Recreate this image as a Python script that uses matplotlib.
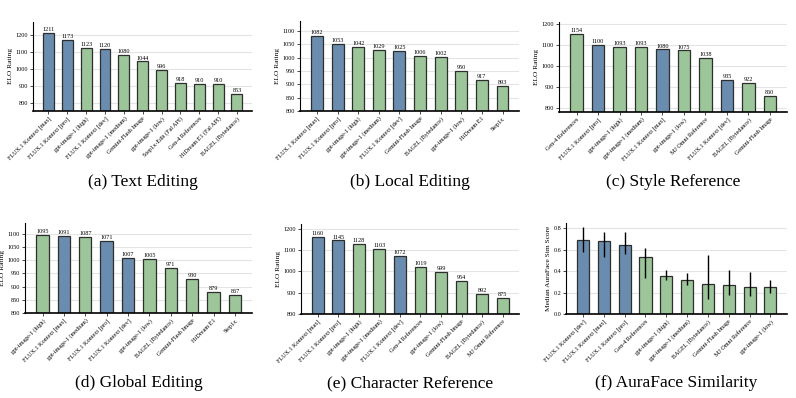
import matplotlib
matplotlib.use('Agg')
import matplotlib.pyplot as plt
import numpy as np

plt.rcParams['font.family'] = ['Liberation Serif', 'DejaVu Serif']

BLUE = '#6a8daf'
GREEN = '#9cc59a'

# (a) text editing
text_models = ['FLUX.1 Kontext [max]', 'FLUX.1 Kontext [pro]', 'gpt-image-1 (high)',
               'FLUX.1 Kontext [dev]', 'gpt-image-1 (medium)', 'Gemini-Flash Image',
               'gpt-image-1 (low)', 'Step1x-Edit (Fal API)', 'Gen-4 References',
               'HiDream E1 (Fal API)', 'BAGEL (Bytedance)']
text_elo = [1211, 1173, 1123, 1120, 1080, 1044, 996, 918, 910, 910, 853]

# (b) local editing
local_models = ['FLUX.1 Kontext [max]', 'FLUX.1 Kontext [pro]', 'gpt-image-1 (high)',
                'gpt-image-1 (medium)', 'FLUX.1 Kontext [dev]', 'Gemini-Flash Image',
                'BAGEL (Bytedance)', 'gpt-image-1 (low)', 'HiDream E1', 'Step1x']
local_elo = [1082, 1053, 1042, 1029, 1025, 1006, 1002, 950, 917, 893]

# (c) style reference
style_models = ['Gen-4 References', 'FLUX.1 Kontext [pro]', 'gpt-image-1 (high)',
                'gpt-image-1 (medium)', 'FLUX.1 Kontext [max]', 'gpt-image-1 (low)',
                'MJ Omni Reference', 'FLUX.1 Kontext [dev]', 'BAGEL (Bytedance)',
                'Gemini-Flash Image']
style_elo = [1154, 1100, 1093, 1093, 1080, 1075, 1038, 935, 922, 860]

# (d) global editing
global_models = ['gpt-image-1 (high)', 'FLUX.1 Kontext [max]', 'gpt-image-1 (medium)',
                 'FLUX.1 Kontext [pro]', 'FLUX.1 Kontext [dev]', 'gpt-image-1 (low)',
                 'BAGEL (Bytedance)', 'Gemini-Flash Image', 'HiDream E1', 'Step1x']
global_elo = [1095, 1091, 1087, 1071, 1007, 1005, 971, 930, 879, 867]

# (e) character reference
char_models = ['FLUX.1 Kontext [max]', 'FLUX.1 Kontext [pro]', 'gpt-image-1 (high)',
               'gpt-image-1 (medium)', 'FLUX.1 Kontext [dev]', 'Gen-4 References',
               'gpt-image-1 (low)', 'Gemini-Flash Image', 'BAGEL (Bytedance)',
               'MJ Omni Reference']
char_elo = [1160, 1145, 1128, 1103, 1072, 1019, 999, 954, 892, 875]

# (f) auraface similarity (median, lower, upper)
aura_models = ['FLUX.1 Kontext [dev]', 'FLUX.1 Kontext [max]', 'FLUX.1 Kontext [pro]',
               'Gen-4 References', 'gpt-image-1 (high)', 'gpt-image-1 (medium)',
               'BAGEL (Bytedance)', 'Gemini-Flash Image', 'MJ Omni Reference',
               'gpt-image-1 (low)']
aura_med = [0.69, 0.68, 0.64, 0.535, 0.355, 0.32, 0.28, 0.27, 0.25, 0.25]
aura_lo = [0.575, 0.53, 0.56, 0.335, 0.32, 0.27, 0.14, 0.175, 0.165, 0.20]
aura_hi = [0.815, 0.77, 0.765, 0.62, 0.41, 0.38, 0.555, 0.415, 0.39, 0.315]

W, H = 796, 398
fig = plt.figure(figsize=(W / 100, H / 100), dpi=100)


def make_ax(x0, x1, y0, y1):
    return fig.add_axes([x0 / W, 1 - y1 / H, (x1 - x0) / W, (y1 - y0) / H])


def style_ax(ax, names, ylab):
    ax.set_axisbelow(True)
    ax.yaxis.grid(True, color='#e4e4e4', linewidth=0.8)
    for s in ['top', 'right']:
        ax.spines[s].set_visible(False)
    ax.spines['left'].set_linewidth(0.8)
    ax.spines['bottom'].set_linewidth(1.2)
    ax.set_xlim(-0.82, len(names) - 0.2)
    ax.set_xticks(range(len(names)))
    ax.set_xticklabels(names, rotation=45, ha='right', rotation_mode='anchor', fontsize=4.4)
    ax.tick_params(axis='both', length=2, width=0.5, pad=1.5, labelsize=4.4)
    ax.set_ylabel(ylab, fontsize=5.3, labelpad=2)


def elo_panel(box, names, vals, ylim, yticks, caption):
    ax = make_ax(*box[:4])
    colors = [BLUE if 'FLUX' in n else GREEN for n in names]
    x = np.arange(len(names))
    ax.bar(x, vals, width=0.58, color=colors, edgecolor='#2e2e2e', linewidth=0.9)
    for xi, v in zip(x, vals):
        ax.text(xi, v + (ylim[1] - ylim[0]) * 0.01, str(v), ha='center', va='bottom', fontsize=4.4)
    ax.set_ylim(*ylim)
    ax.set_yticks(yticks)
    style_ax(ax, names, 'ELO Rating')
    cx = (box[0] + box[1]) / 2
    fig.text(cx / W, 1 - box[4] / H, caption, ha='center', va='center', fontsize=12.5)
    return ax


elo_panel((33, 252, 22, 111, 182), text_models, text_elo, (753, 1276),
          [800, 900, 1000, 1100, 1200], '(a) Text Editing')
elo_panel((300, 519, 21, 111, 182), local_models, local_elo, (800, 1138),
          [800, 850, 900, 950, 1000, 1050, 1100], '(b) Local Editing')
elo_panel((559, 787, 22, 112, 182), style_models, style_elo, (783, 1210),
          [800, 900, 1000, 1100, 1200], '(c) Style Reference')
elo_panel((25, 252, 223, 313, 383), global_models, global_elo, (800, 1140),
          [800, 850, 900, 950, 1000, 1050, 1100], '(d) Global Editing')
elo_panel((301, 519, 224, 314, 383), char_models, char_elo, (800, 1222),
          [800, 900, 1000, 1100, 1200], '(e) Character Reference')

# (f)
box = (566, 787, 223, 314, 383)
ax = make_ax(*box[:4])
colors = [BLUE if 'FLUX' in n else GREEN for n in aura_models]
x = np.arange(len(aura_models))
med = np.array(aura_med)
yerr = [med - np.array(aura_lo), np.array(aura_hi) - med]
ax.bar(x, med, width=0.58, color=colors, edgecolor='#2e2e2e', linewidth=0.9)
ax.errorbar(x, med, yerr=yerr, fmt='none', ecolor='black', elinewidth=1.0, capsize=0)
ax.set_ylim(0, 0.85)
ax.set_yticks([0.0, 0.2, 0.4, 0.6, 0.8])
style_ax(ax, aura_models, 'Median AuraFace Sim Score')
fig.text((box[0] + box[1]) / 2 / W, 1 - box[4] / H, '(f) AuraFace Similarity',
         ha='center', va='center', fontsize=12.5)

fig.savefig('out.png', dpi=100)
